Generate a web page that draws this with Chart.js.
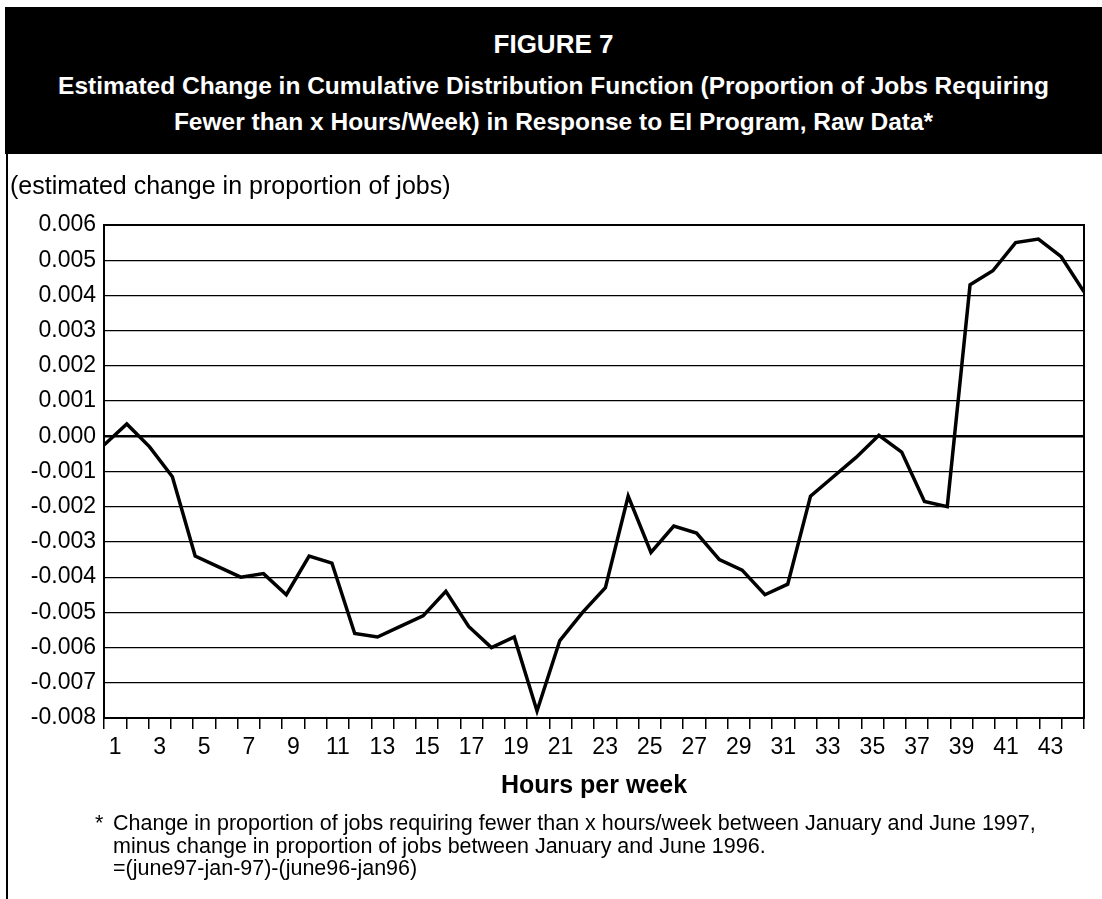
<!DOCTYPE html>
<html>
<head>
<meta charset="utf-8">
<script src="https://cdn.jsdelivr.net/npm/chart.js@4.4.1/dist/chart.umd.min.js"></script>
<style>
  body { margin: 0; background: #fff; font-family: "Liberation Sans", Arial, sans-serif; }
  #wrap { position: relative; width: 1102px; height: 899px; overflow: hidden; }
  #head { position: absolute; left: 5px; top: 7px; width: 1097px; height: 147px; background: #000; color: #fff; text-align: center; font-weight: bold; }
  #head .t1 { font-size: 26px; margin-top: 22px; }
  #head .t2 { font-size: 24.5px; line-height: 36px; margin-top: 8px; }
  #border { position: absolute; left: 6px; top: 154px; width: 2px; height: 745px; background: #000; }
  #ylab { position: absolute; left: 10px; top: 171px; font-size: 25px; }
  #xlab { position: absolute; left: 104px; width: 980px; top: 770px; text-align: center; font-size: 25px; font-weight: bold; }
  #note { position: absolute; left: 95px; top: 812px; font-size: 21.5px; line-height: 22.5px; }
  #note span { display: inline-block; width: 18px; }
  canvas { position: absolute; left: 0; top: 0; }
</style>
</head>
<body>
<div id="wrap">
  <canvas id="myCanvas" width="1102" height="899"></canvas>
  <div id="head">
    <div class="t1">FIGURE 7</div>
    <div class="t2">Estimated Change in Cumulative Distribution Function (Proportion of Jobs Requiring<br>Fewer than x Hours/Week) in Response to EI Program, Raw Data*</div>
  </div>
  <div id="border"></div>
  <div id="ylab">(estimated change in proportion of jobs)</div>
  <div id="xlab">Hours per week</div>
  <div id="note"><span>*</span>Change in proportion of jobs requiring fewer than x hours/week between January and June 1997,<br><span></span>minus change in proportion of jobs between January and June 1996.<br><span></span>=(june97-jan-97)-(june96-jan96)</div>
</div>
<script>
// hour categories on the axis (labels 1..44, odd ones shown)
const hourLabels = [];
for (let h = 1; h <= 44; h++) hourLabels.push(String(h));

// estimated change in proportion, one point per hour step
const pointX = [0,1,2,3,4,5,6,7,8,9,10,11,12,13,14,15,16,17,18,19,20,21,
                22,23,24,25,26,27,28,29,30,31,32,33,34,35,36,37,38,39,40,41,42,43];
const changeValues = [-0.00025, 0.00035, -0.0003, -0.00115, -0.0034, -0.0037, -0.004, -0.0039,
  -0.0045, -0.0034, -0.0036, -0.0056, -0.0057, -0.0054, -0.0051, -0.0044, -0.0054, -0.006,
  -0.0057, -0.0078, -0.0058, -0.005, -0.0043, -0.0017, -0.0033, -0.00255, -0.00275, -0.0035,
  -0.0038, -0.0045, -0.0042, -0.0017, -0.00115, -0.0006, 0.00003, -0.00045, -0.00185, -0.002,
  0.0043, 0.0047, 0.0055, 0.0056, 0.0051, 0.0041];

const yTicks = { min: -0.008, max: 0.006, step: 0.001 };

const frame = {
  id: 'frame',
  afterDraw(chart) {
    const a = chart.chartArea, ctx = chart.ctx;
    ctx.save();
    ctx.strokeStyle = '#000';
    ctx.lineWidth = 2;
    ctx.strokeRect(a.left, a.top, a.right - a.left, a.bottom - a.top);
    ctx.restore();
  }
};

const ctx = document.getElementById('myCanvas').getContext('2d');
new Chart(ctx, {
  type: 'line',
  data: {
    datasets: [{
      data: pointX.map((x, i) => ({ x: x, y: changeValues[i] })),
      xAxisID: 'x',
      borderColor: '#000',
      borderWidth: 3.5,
      pointRadius: 0,
      tension: 0
    }]
  },
  options: {
    responsive: false,
    animation: false,
    layout: { padding: { top: 225, right: 18, left: 0, bottom: 0 } },
    plugins: { legend: { display: false }, tooltip: { enabled: false } },
    scales: {
      x: { type: 'linear', min: 0, max: 43, display: false },
      xl: {
        type: 'category',
        labels: hourLabels,
        position: 'bottom',
        offset: true,
        grid: { display: true, drawOnChartArea: false, offset: true, color: '#000', lineWidth: 1.5, tickLength: 11 },
        border: { color: '#000', width: 2 },
        ticks: {
          color: '#000', font: { family: 'Liberation Sans', size: 23 }, maxRotation: 0, autoSkip: false,
          padding: 5,
          callback: (v, i) => (i % 2 === 0 ? hourLabels[i] : '')
        },
        afterFit: s => { s.height = 181; }
      },
      y: {
        min: yTicks.min, max: yTicks.max,
        ticks: {
          stepSize: yTicks.step, color: '#000', font: { family: 'Liberation Sans', size: 23 }, padding: 8,
          callback: v => (Math.abs(v) < 1e-9 ? '0.000' : v.toFixed(3))
        },
        grid: {
          color: '#000', tickLength: 0,
          lineWidth: c => (Math.abs(c.tick.value) < 1e-9 ? 2.5 : 1.2)
        },
        border: { color: '#000', width: 2 },
        afterFit: s => { s.width = 104; }
      }
    }
  },
  plugins: [frame]
});
</script>
</body>
</html>
